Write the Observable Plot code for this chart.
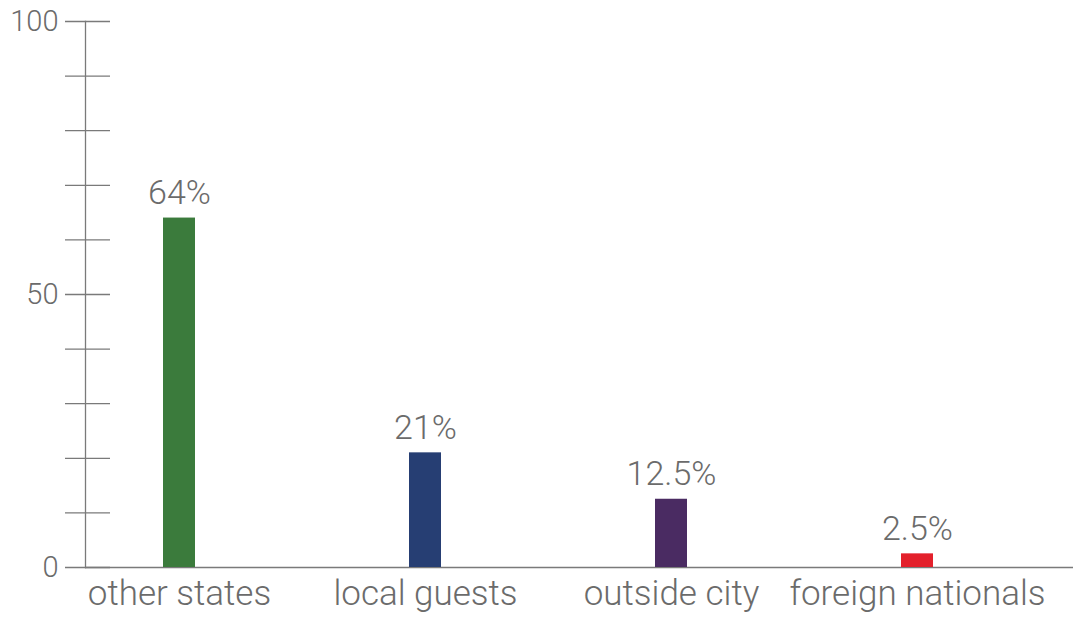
<!DOCTYPE html>
<html>
<head>
<meta charset="utf-8">
<script src="https://cdn.jsdelivr.net/npm/d3@7"></script>
<script src="https://cdn.jsdelivr.net/npm/@observablehq/plot@0.6"></script>
<style>
  html, body { margin: 0; padding: 0; background: #fff; }
  #chart svg { display: block; }
</style>
</head>
<body>
<div id="chart"></div>
<script>
const categories = ["other states", "local guests", "outside city", "foreign nationals"];
const values = [64, 21, 12.5, 2.5];
const valueLabels = ["64%", "21%", "12.5%", "2.5%"];
const colors = ["#3b7b3c", "#263e73", "#4a2b62", "#e3202b"];
const yTicks = [0, 10, 20, 30, 40, 50, 60, 70, 80, 90, 100];
const yTickLabels = [0, 50, 100];

const data = categories.map((c, i) => ({category: c, value: values[i], label: valueLabels[i], color: colors[i]}));

const W = 1073, H = 618, ML = 85;
const font = "Roboto, 'Helvetica Neue', Arial, sans-serif";

const chart = Plot.plot({
  width: W,
  height: H,
  marginLeft: ML,
  marginRight: 0,
  marginTop: 21,
  marginBottom: 51,
  style: {fontFamily: font, background: "#fff"},
  x: {domain: categories, range: [ML, 1010], paddingInner: 0.8704, paddingOuter: 0.3077, align: 0.5},
  y: {domain: [0, 100], range: [567, 21]},
  color: {type: "identity"},
  marks: [
    Plot.frame({anchor: "left", stroke: "#7a7a7a", strokeWidth: 1.3}),
    Plot.ruleY(yTicks, {y: d => d, insetLeft: -20, insetRight: W - ML - 25, stroke: "#7a7a7a", strokeWidth: 1.3}),
    Plot.ruleY([0], {stroke: "#7a7a7a", strokeWidth: 1.3}),
    Plot.barY(data, {x: "category", y: "value", fill: "color"}),
    Plot.text(data, {x: "category", y: "value", text: "label", dy: -14, lineAnchor: "bottom", fontSize: 34, fontWeight: 300, fill: "#6b6b6b"}),
    Plot.axisY({ticks: yTickLabels, tickSize: 0, tickPadding: 27, fontSize: 29, fontWeight: 300, color: "#6b6b6b", label: null}),
    Plot.axisX({tickSize: 0, tickPadding: 13, fontSize: 35, fontWeight: 300, color: "#6b6b6b", label: null})
  ]
});
document.getElementById("chart").appendChild(chart);
</script>
</body>
</html>
